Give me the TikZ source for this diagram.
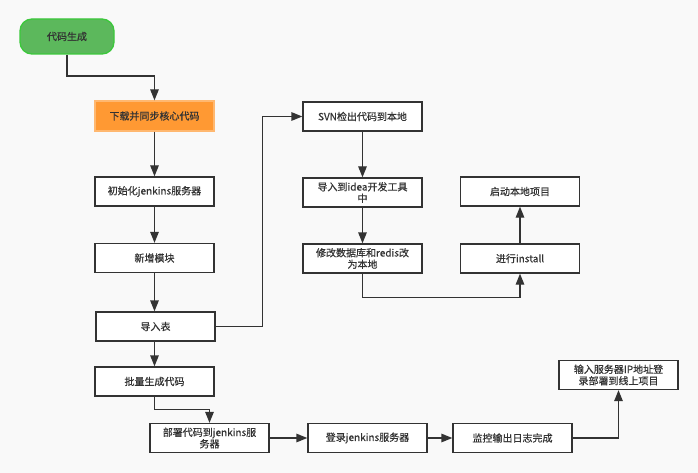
\documentclass[tikz,border=0pt]{standalone}
\usepackage{fontspec}
\setmainfont{Noto Sans CJK SC}
\newfontfamily\cjkm{Noto Sans CJK SC}[FakeBold=0.6]
\usetikzlibrary{arrows.meta}
\definecolor{bg}{HTML}{F9F9F9}
\definecolor{ln}{HTML}{333333}
\definecolor{txt}{HTML}{333333}
\definecolor{gfill}{HTML}{5CB85C}
\definecolor{gdraw}{HTML}{3CC83C}
\definecolor{ofill}{HTML}{FF9933}
\definecolor{odraw}{HTML}{FFB870}
\begin{document}
\begin{tikzpicture}[x=1pt,y=-1pt,
  box/.style={draw=ln, line width=1.3pt, fill=white, minimum width=119pt, minimum height=29pt,
    inner sep=1pt, align=center, text=txt, font=\cjkm\fontsize{10}{11.5}\selectfont},
  startbox/.style={box, draw=gdraw, fill=gfill, minimum width=94pt, minimum height=35pt, rounded corners=12pt},
  orangebox/.style={box, draw=odraw, fill=ofill, minimum height=30pt},
  arr/.style={draw=ln, line width=1.3pt, -{Triangle[length=11pt,width=8.5pt]}}]
\fill[bg] (0,0) rectangle (698,473);
\useasboundingbox (0,0) rectangle (698,473);

\node[startbox] (g) at (67,36.5) {代码生成};
\node[orangebox] (o) at (154.5,116) {下载并同步核心代码};
\node[box] (init) at (154.5,191.5) {初始化jenkins服务器};
\node[box] (xz) at (154.5,258) {新增模块};
\node[box] (dr) at (155.5,326.5) {导入表};
\node[box] (pl) at (154.5,381.5) {批量生成代码};
\node[box] (bs) at (209.5,438) {部署代码到jenkins服\\务器};
\node[box] (dl) at (367.5,438) {登录jenkins服务器};
\node[box] (jk) at (512.5,438) {监控输出日志完成};
\node[box] (sr) at (618.5,375) {输入服务器IP地址登\\录部署到线上项目};
\node[box] (svn) at (362.5,116.5) {SVN检出代码到本地};
\node[box] (idea) at (362.5,192.5) {导入到idea开发工具\\中};
\node[box] (xg) at (362.5,258.5) {修改数据库和redis改\\为本地};
\node[box] (ins) at (520,258.5) {进行install};
\node[box] (qd) at (520,191.5) {启动本地项目};

\draw[arr] (g.south) -- ++(0,21.5) -| (o.north);
\draw[arr] (o.south) -- (init.north);
\draw[arr] (init.south) -- (xz.north);
\draw[arr] (xz.south) -- (xz.south |- dr.north);
\draw[arr] (dr.south -| pl.north) -- (pl.north);
\draw[arr] (pl.south) -- ++(0,13) -| (bs.north);
\draw[arr] (bs.east) -- (dl.west);
\draw[arr] (dl.east) -- (jk.west);
\draw[arr] (jk.east) -| (sr.south);
\draw[arr] (dr.east) -- ++(47,0) |- (svn.west);
\draw[arr] (svn.south) -- (idea.north);
\draw[arr] (idea.south) -- (xg.north);
\draw[arr] (xg.south) -- ++(0,24) -| (ins.south);
\draw[arr] (ins.north) -- (qd.south);
\end{tikzpicture}
\end{document}
